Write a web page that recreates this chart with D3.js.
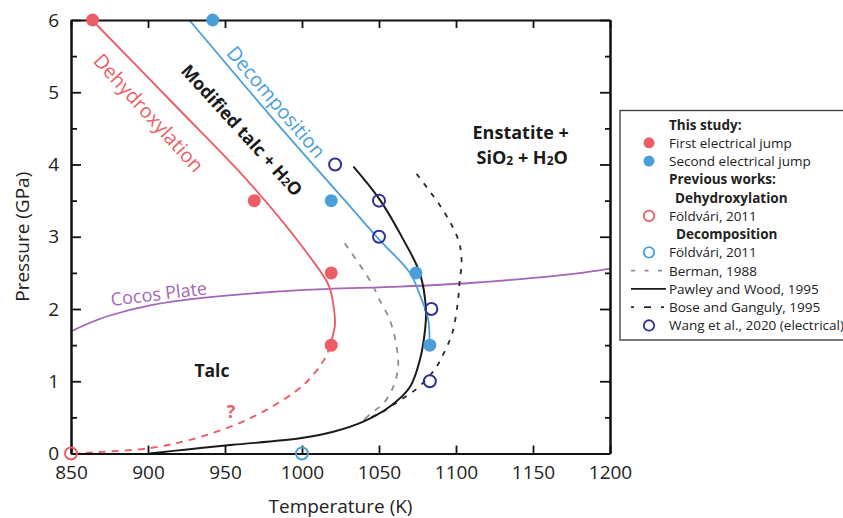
<!DOCTYPE html>
<html><head><meta charset="utf-8">
<script src="https://cdn.jsdelivr.net/npm/d3@7"></script>
<style>
html,body{margin:0;padding:0;background:#fff;}
svg{display:block;font-family:"Open Sans",sans-serif;}
</style></head>
<body>
<svg id="chart" width="843" height="518"></svg>
<script>
// ---------- data ----------
const xTicks = [850, 900, 950, 1000, 1050, 1100, 1150, 1200];
const yTicks = [0, 1, 2, 3, 4, 5, 6];
const yMinorTicks = [0.5, 1.5, 2.5, 3.5, 4.5, 5.5];

const firstJumpT = [864, 969, 1019, 1019];
const firstJumpP = [6, 3.5, 2.5, 1.5];
const secondJumpT = [942, 1019, 1074, 1083];
const secondJumpP = [6, 3.5, 2.5, 1.5];
const wangT = [1021.5, 1050, 1050, 1084, 1083];
const wangP = [4, 3.5, 3, 2, 1];
const foldDehydT = [850], foldDehydP = [0];
const foldDecompT = [1000], foldDecompP = [0];

const dehydSolidT = [863.6, 917.5, 966.2, 1005.2, 1017.5, 1020.8, 1021.4, 1020.1, 1018.2];
const dehydSolidP = [6.0, 4.82, 3.74, 2.72, 2.32, 1.99, 1.78, 1.64, 1.49];
const dehydDashT = [1018.2, 1015, 1001, 968.5, 934, 901.6, 862.7, 855];
const dehydDashP = [1.49, 1.32, 0.95, 0.51, 0.23, 0.076, 0.014, 0.0];
const decompT = [926.8, 985.7, 1031.2, 1050.6, 1070.1, 1076.6, 1082, 1082.7];
const decompP = [6.0, 4.52, 3.42, 2.95, 2.50, 2.19, 1.85, 1.49];
const pawleyT = [1033.4, 1050.6, 1065.8, 1076.6, 1080.5, 1079.9, 1076.6, 1070.1, 1057.1, 1039.8, 1020.3, 998.7, 955.2, 927, 901];
const pawleyP = [3.97, 3.51, 2.96, 2.49, 1.99, 1.71, 1.30, 0.92, 0.65, 0.44, 0.30, 0.21, 0.12, 0.06, 0.0];
const bermanT = [1027.7, 1045.1, 1050.5, 1057, 1061.4, 1062.4, 1059.2, 1052.7, 1045.1, 1039.7];
const bermanP = [2.91, 2.36, 2.12, 1.85, 1.48, 1.20, 0.92, 0.69, 0.56, 0.46];
const boseT = [1074.4, 1092.1, 1101.6, 1103.6, 1102.3, 1100.8, 1097.5, 1092.1, 1086.7, 1075.8, 1063.9, 1050.9, 1040.1];
const boseP = [3.87, 3.35, 2.95, 2.68, 2.36, 2.03, 1.66, 1.39, 1.18, 0.92, 0.74, 0.56, 0.46];
const cocosT = [850, 862.3, 875.3, 901.3, 933.8, 999, 1063.9, 1109.3, 1150.3, 1177.3, 1200];
const cocosP = [1.69, 1.81, 1.91, 2.05, 2.15, 2.26, 2.31, 2.36, 2.43, 2.49, 2.56];

const legendItems = [
  {label: "This study:", type: "head", indent: 0},
  {label: "First electrical jump", type: "dot", color: "red"},
  {label: "Second electrical jump", type: "dot", color: "blue"},
  {label: "Previous works:", type: "head", indent: 0},
  {label: "Dehydroxylation", type: "head", indent: 6},
  {label: "Földvári, 2011", type: "ring", color: "red"},
  {label: "Decomposition", type: "head", indent: 7},
  {label: "Földvári, 2011", type: "ring", color: "blue"},
  {label: "Berman, 1988", type: "line", style: "berman"},
  {label: "Pawley and Wood, 1995", type: "line", style: "pawley"},
  {label: "Bose and Ganguly, 1995", type: "line", style: "bose"},
  {label: "Wang et al., 2020 (electrical)", type: "ring", color: "navy"}
];

// ---------- styles ----------
const C = {red: "#ec5d65", blue: "#4a9fdb", navy: "#2e3192", purple: "#a466b6", grey: "#8c8c8c", black: "#1a1a1a", dark: "#2a2a2a"};
const lineStyles = {
  berman: {stroke: C.grey, dash: "6,7", width: 1.8},
  pawley: {stroke: C.black, dash: null, width: 2},
  bose: {stroke: C.dark, dash: "5,7", width: 1.8}
};

const svg = d3.select("#chart");
const x = d3.scaleLinear().domain([850, 1200]).range([71, 610]);
const y = d3.scaleLinear().domain([0, 6]).range([453.5, 20]);

const zip = (a, b) => a.map((v, i) => [v, b[i]]);
const line = d3.line().x(d => x(d[0])).y(d => y(d[1])).curve(d3.curveCatmullRom.alpha(0.5));

function path(T, P, color, width, dash) {
  const p = svg.append("path").datum(zip(T, P)).attr("d", line)
    .attr("fill", "none").attr("stroke", color).attr("stroke-width", width)
    .attr("stroke-linecap", "butt");
  if (dash) p.attr("stroke-dasharray", dash);
  return p;
}

// ---------- curves ----------
path(cocosT, cocosP, C.purple, 1.8);
path(bermanT, bermanP, lineStyles.berman.stroke, 1.8, lineStyles.berman.dash);
path(boseT, boseP, lineStyles.bose.stroke, 1.8, lineStyles.bose.dash);
path(pawleyT, pawleyP, C.black, 2);
path(decompT, decompP, C.blue, 1.8);
path(dehydSolidT, dehydSolidP, C.red, 1.9);
path(dehydDashT, dehydDashP, C.red, 1.9, "7,6");

// ---------- axes ----------
const frame = svg.append("g");
frame.append("g").attr("transform", `translate(0,${y(0)})`)
  .call(d3.axisBottom(x).tickValues(xTicks).tickSize(-8).tickSizeOuter(0).tickPadding(12).tickFormat(d3.format("d")));
frame.append("g").attr("transform", `translate(0,${y(6)})`)
  .call(d3.axisTop(x).tickValues(xTicks).tickSize(-8).tickSizeOuter(0).tickFormat(""));
frame.append("g").attr("transform", `translate(${x(850)},0)`)
  .call(d3.axisLeft(y).tickValues(yTicks).tickSize(-10).tickSizeOuter(0).tickPadding(12).tickFormat(d3.format("d")));
frame.append("g").attr("transform", `translate(${x(850)},0)`)
  .call(d3.axisLeft(y).tickValues(yMinorTicks).tickSize(-6).tickSizeOuter(0).tickFormat(""));
frame.append("g").attr("transform", `translate(${x(1200)},0)`)
  .call(d3.axisRight(y).tickValues(yTicks).tickSize(-10).tickSizeOuter(0).tickFormat(""));
frame.append("g").attr("transform", `translate(${x(1200)},0)`)
  .call(d3.axisRight(y).tickValues(yMinorTicks).tickSize(-5).tickSizeOuter(0).tickFormat(""));
frame.selectAll(".domain").attr("stroke", "#111").attr("stroke-width", 2);
frame.selectAll(".tick line").attr("stroke", "#111").attr("stroke-width", 1.8);
frame.selectAll(".tick text").attr("font-family", "Open Sans").attr("font-size", 19).attr("fill", "#222");

// ---------- markers ----------
function dots(T, P, color, filled, r) {
  svg.append("g").selectAll("circle").data(zip(T, P)).join("circle")
    .attr("cx", d => x(d[0])).attr("cy", d => y(d[1])).attr("r", r)
    .attr("fill", filled ? color : "none")
    .attr("stroke", filled ? "none" : color).attr("stroke-width", filled ? 0 : 2);
}
dots(foldDehydT, foldDehydP, C.red, false, 6);
dots(foldDecompT, foldDecompP, C.blue, false, 6);
dots(wangT, wangP, C.navy, false, 6);
dots(firstJumpT, firstJumpP, C.red, true, 6.5);
dots(secondJumpT, secondJumpP, C.blue, true, 6.5);

// ---------- annotations ----------
function label(t, p, angle, color, size, weight) {
  return svg.append("text")
    .attr("transform", `translate(${x(t)},${y(p)}) rotate(${angle})`)
    .attr("text-anchor", "middle").attr("dominant-baseline", "central")
    .attr("fill", color).attr("font-size", size).attr("font-weight", weight || 400);
}
label(900.6, 4.72, 47.6, C.red, 19.8).text("Dehydroxylation");
label(983.4, 4.87, 49.5, C.blue, 19.8).text("Decomposition");
const mod = label(961.3, 4.48, 47.8, C.black, 17.8, 700);
mod.append("tspan").text("Modified talc + H");
mod.append("tspan").attr("font-size", 12).attr("dy", 2).text("2");
mod.append("tspan").attr("dy", -2).text("O");

svg.append("text").attr("text-anchor", "middle").attr("font-size", 18).attr("font-weight", 700).attr("fill", C.black)
  .attr("x", x(1142)).attr("y", 139).text("Enstatite +");
const sio = svg.append("text").attr("text-anchor", "middle").attr("font-size", 18).attr("font-weight", 700).attr("fill", C.black)
  .attr("x", x(1143)).attr("y", 164);
sio.append("tspan").text("SiO");
sio.append("tspan").attr("font-size", 12).attr("dy", 1).text("2");
sio.append("tspan").attr("dy", -1).text(" + H");
sio.append("tspan").attr("font-size", 12).attr("dy", 1).text("2");
sio.append("tspan").attr("dy", -1).text("O");

svg.append("text").attr("x", x(941.5)).attr("y", 377).attr("text-anchor", "middle")
  .attr("font-size", 17.5).attr("font-weight", 700).attr("fill", C.black).text("Talc");
svg.append("text").attr("x", x(954)).attr("y", 418).attr("text-anchor", "middle")
  .attr("font-size", 18).attr("font-weight", 700).attr("fill", C.red).text("?");
label(907, 2.22, -7, C.purple, 18).text("Cocos Plate");

// axis titles
svg.append("text").attr("x", (x(850) + x(1200)) / 2).attr("y", 513).attr("text-anchor", "middle")
  .attr("font-size", 19).attr("fill", "#222").text("Temperature (K)");
svg.append("text").attr("transform", `translate(29,${(y(0) + y(6)) / 2}) rotate(-90)`).attr("text-anchor", "middle")
  .attr("font-size", 19).attr("fill", "#222").text("Pressure (GPa)");

// ---------- legend ----------
const lg = svg.append("g");
lg.append("rect").attr("x", 620).attr("y", 110.5).attr("width", 240).attr("height", 229.5)
  .attr("fill", "#fff").attr("stroke", "#444").attr("stroke-width", 1.4);
const rowY = i => 124.5 + i * 18.27;
legendItems.forEach((it, i) => {
  const cy = rowY(i);
  lg.append("text").attr("x", 669 + (it.indent || 0)).attr("y", cy).attr("dominant-baseline", "central")
    .attr("font-size", 13.5).attr("font-weight", it.type === "head" ? 700 : 400).attr("fill", "#222").text(it.label);
  if (it.type === "dot") {
    lg.append("circle").attr("cx", 649).attr("cy", cy).attr("r", 5.5).attr("fill", C[it.color]);
  } else if (it.type === "ring") {
    lg.append("circle").attr("cx", 649).attr("cy", cy).attr("r", 5.2).attr("fill", "none")
      .attr("stroke", C[it.color]).attr("stroke-width", 1.8);
  } else if (it.type === "line") {
    const s = lineStyles[it.style];
    const l = lg.append("line").attr("x1", 631).attr("x2", 666).attr("y1", cy).attr("y2", cy)
      .attr("stroke", s.stroke).attr("stroke-width", 1.8);
    if (it.style === "berman") l.attr("stroke-dasharray", "4,9.5");
    if (it.style === "bose") l.attr("stroke-dasharray", "3,10,7,10");
  }
});
</script>
</body></html>
